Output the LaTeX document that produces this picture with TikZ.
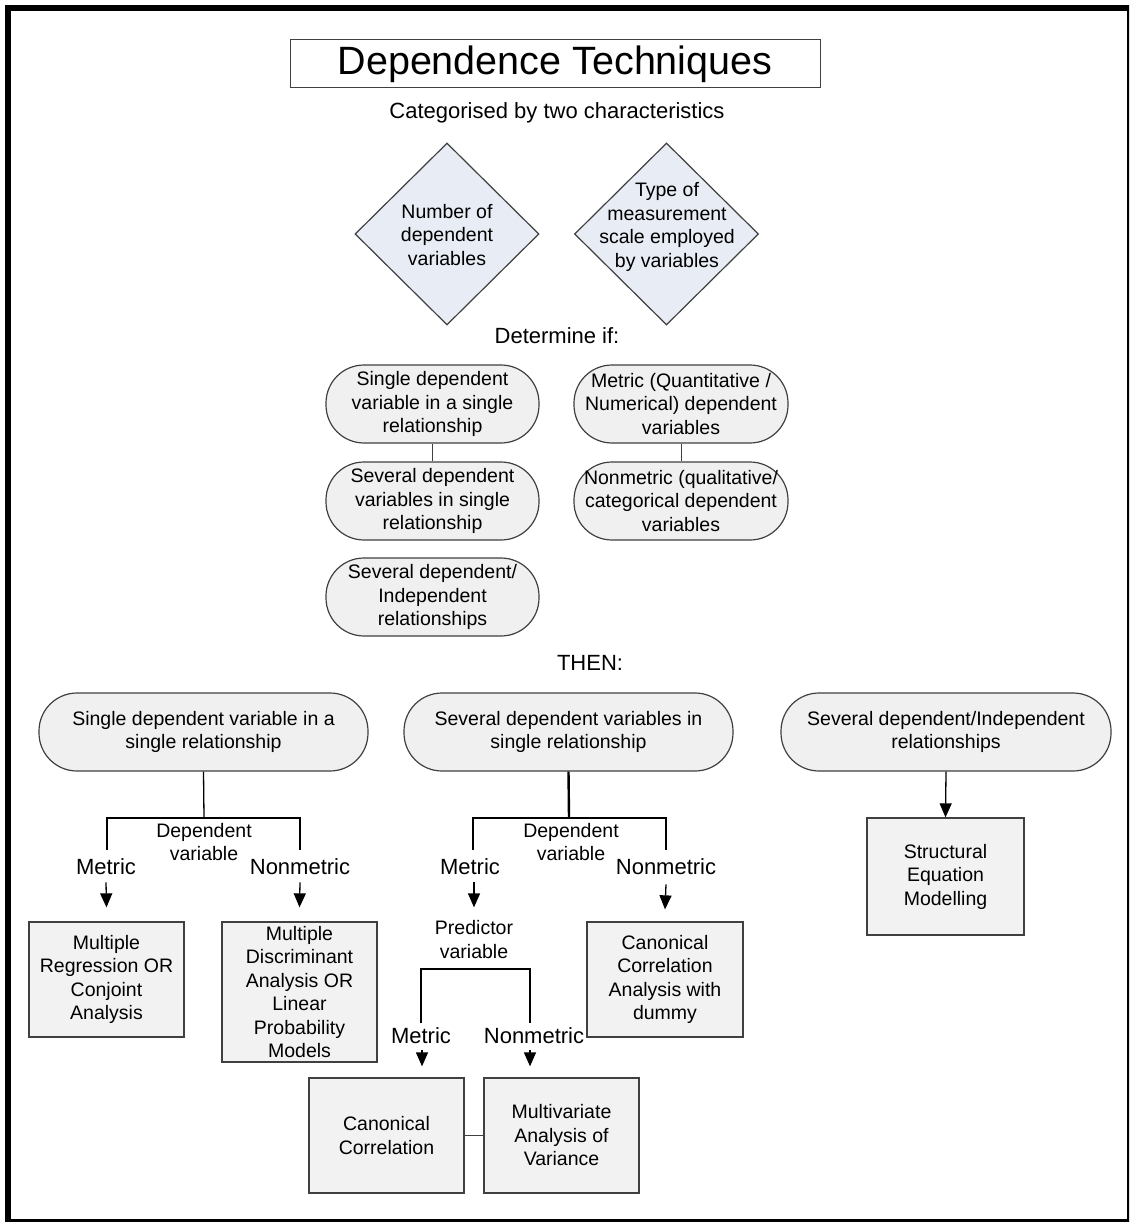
\documentclass[tikz,border=0pt]{standalone}
\usepackage{fontspec}
\setmainfont{Liberation Sans}
\usetikzlibrary{shapes.geometric,arrows.meta}
\definecolor{edge}{RGB}{64,64,64}
\definecolor{boxfill}{RGB}{242,242,242}
\definecolor{pillfill}{RGB}{240,240,240}
\definecolor{diafill}{RGB}{232,236,245}

\begin{document}
\begin{tikzpicture}[x=1pt,y=-1pt,
  txt/.style={font=\fontsize{19.5}{23.5}\selectfont, align=center, inner sep=0pt},
  big/.style={font=\fontsize{22}{26}\selectfont, align=center, inner sep=0pt},
  pill/.style={txt, draw=edge, fill=pillfill, line width=1.2pt, rounded corners=38pt, minimum height=78pt},
  techbox/.style={txt, draw=edge, fill=boxfill, line width=1.3pt, minimum width=155pt},
  dia/.style={diamond, draw=edge, fill=diafill, line width=1.2pt, inner sep=0pt, minimum width=184pt, minimum height=182pt},
  link/.style={line width=1.3pt, black},
  arr/.style={link, -{Triangle[length=14pt,width=12pt]}},
]
\useasboundingbox (0,0) rectangle (1129,1222);
\clip (0,0) rectangle (1129,1222);

% page frame
\draw[line width=6pt] (8,8) rectangle (1130,1222);

% heading
\node[draw=edge, line width=1pt, minimum width=530pt, minimum height=48pt,
      font=\fontsize{39.5}{44}\selectfont, inner sep=0pt] (title) at (555,64) {Dependence Techniques};
\node[big] (cat) at (557,113) {Categorised by two characteristics};

% the two characteristics
\node[dia] (d1) at (447,234) {};
\node[txt] (d1t) at (447,235) {Number of\\dependent\\variables};
\node[dia] (d2) at (666.5,234) {};
\node[txt] (d2t) at (667,227) {Type of\\measurement\\scale employed\\by variables};

\node[big] (det) at (557,336) {Determine if:};

% options
\node[pill, minimum width=213pt] (p1) at (432.5,404) {Single dependent\\variable in a single\\relationship};
\node[pill, minimum width=213pt] (p2) at (432.5,501) {Several dependent\\variables in single\\relationship};
\node[pill, minimum width=213pt] (p3) at (432.5,597) {Several dependent/\\Independent\\relationships};
\node[pill, minimum width=214pt] (p4) at (681,404) {Metric (Quantitative /\\Numerical) dependent\\variables};
\node[pill, minimum width=214pt] (p5) at (681,501) {Nonmetric (qualitative/\\categorical dependent\\variables};
\draw[link, line width=1pt, edge] (p1) -- (p2);
\draw[link, line width=1pt, edge] (p4) -- (p5);

\node[big] (then) at (590,663) {THEN:};

% three branches
\node[pill, minimum width=329pt] (pA) at (203.5,732) {Single dependent variable in a\\single relationship};
\node[pill, minimum width=329pt] (pB) at (568.5,732) {Several dependent variables in\\single relationship};
\node[pill, minimum width=330pt] (pC) at (946,732) {Several dependent/Independent\\relationships};

% branch A
\coordinate (jA) at (204,818);
\coordinate (aL) at (107,850);
\coordinate (aR) at (300,850);
\draw[link] (pA.south) -- (jA);
\draw[link] (aL) |- (jA) -| (aR);
\node[txt] (dvA) at (204,842) {Dependent\\variable};
\node[big] (mA) at (106,867) {Metric};
\node[big] (nA) at (300,867) {Nonmetric};
\node[techbox, minimum height=115pt] (A1) at (106.5,979.5) {Multiple\\Regression OR\\Conjoint\\Analysis};
\node[techbox, minimum height=140pt] (A2) at (299.5,992) {Multiple\\Discriminant\\Analysis OR\\Linear\\Probability\\Models};
\draw[arr] ([yshift=-7pt]mA.south) -- ([yshift=14pt]A1.north);
\draw[arr] ([yshift=-7pt]nA.south) -- ([yshift=14pt]A2.north);

% branch B
\coordinate (jB) at (569,818);
\coordinate (bL) at (473,850);
\coordinate (bR) at (666,850);
\draw[link, line width=2.4pt] (pB.south) -- (jB);
\draw[link] (bL) |- (jB) -| (bR);
\node[txt] (dvB) at (571,842) {Dependent\\variable};
\node[big] (mB) at (470,867) {Metric};
\node[big] (nB) at (666,867) {Nonmetric};
\node[txt] (pv) at (474,939.5) {Predictor\\variable};
\node[techbox, minimum height=115pt, minimum width=156pt] (B1) at (665,979.5) {Canonical\\Correlation\\Analysis with\\dummy};
\draw[arr] ([xshift=4pt,yshift=-7pt]mB.south) -- ([yshift=13pt]pv.north);
\draw[arr] ([yshift=-9pt]nB.south) -- ([yshift=12pt]B1.north);

\coordinate (cL) at (421,1023);
\coordinate (cR) at (530,1023);
\coordinate (jC) at (475,969);
\draw[link] (cL) |- (jC) -| (cR);
\node[big] (mC) at (421,1036) {Metric};
\node[big] (nC) at (534,1036) {Nonmetric};
\node[techbox, minimum height=115pt] (B2) at (386.5,1135.5) {Canonical\\Correlation};
\node[techbox, minimum height=115pt] (B3) at (561.5,1135.5) {Multivariate\\Analysis of\\Variance};
\draw[arr] ([xshift=1pt,yshift=-6pt]mC.south) -- ([xshift=1pt,yshift=11pt]B2.north -| mC.south);
\draw[arr] ([xshift=-4pt,yshift=-6pt]nC.south) -- ([xshift=-4pt,yshift=11pt]B3.north -| nC.south);
\draw[link, line width=1pt, edge] (B2) -- (B3);

% branch C
\node[techbox, minimum height=117pt, minimum width=157pt] (C1) at (945.5,876.5) {Structural\\Equation\\Modelling};
\draw[arr] (pC.south) -- (C1.north);
\end{tikzpicture}
\end{document}
